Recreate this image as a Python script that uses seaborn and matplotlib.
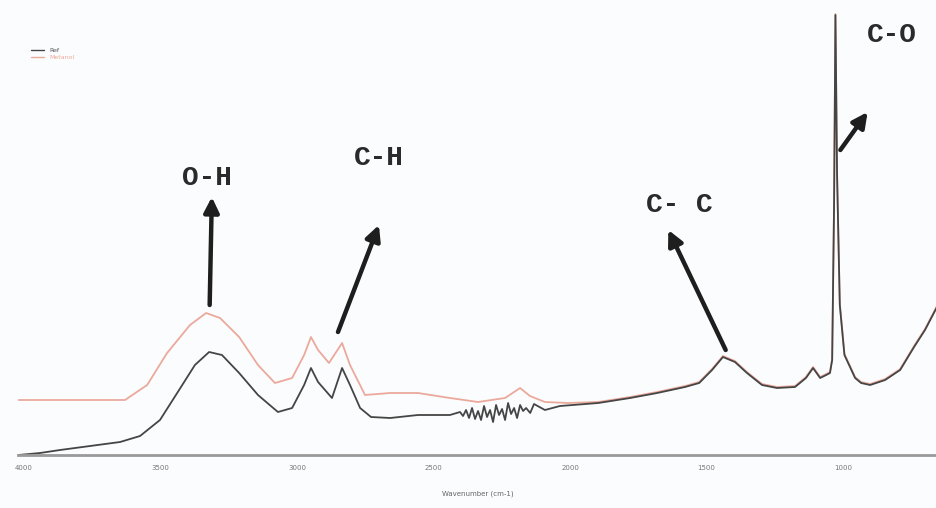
import numpy as np
import pandas as pd
import matplotlib
matplotlib.use("Agg")
import matplotlib.pyplot as plt
import seaborn as sns
from matplotlib.lines import Line2D

# ---- data (absorbance in arbitrary units) ----
ref_wn = [4020, 3941, 3868, 3758, 3648, 3575, 3502, 3432, 3374, 3322, 3275, 3212,
          3143, 3070, 3018, 2974, 2949, 2923, 2872, 2835, 2806, 2769, 2729, 2659,
          2557, 2440, 2403, 2392, 2381, 2370, 2359, 2348, 2337, 2326, 2315, 2304,
          2293, 2282, 2271, 2260, 2249, 2238, 2227, 2216, 2205, 2194, 2183, 2172,
          2161, 2146, 2132, 2092, 2037, 1897, 1780, 1681, 1579, 1527, 1480, 1440,
          1396, 1352, 1297, 1242, 1176, 1136, 1110, 1084, 1062, 1048, 1040, 1033,
          1028, 1022, 1012, 995, 978, 956, 934, 901, 846, 791, 740, 700, 656]
ref_abs = [0.00, 0.02, 0.05, 0.09, 0.13, 0.19, 0.35, 0.65, 0.90, 1.03, 1.00, 0.82,
           0.60, 0.43, 0.47, 0.70, 0.87, 0.73, 0.57, 0.87, 0.70, 0.47, 0.38, 0.37,
           0.40, 0.40, 0.43, 0.39, 0.45, 0.37, 0.47, 0.36, 0.44, 0.35, 0.49, 0.38,
           0.45, 0.33, 0.50, 0.40, 0.46, 0.35, 0.52, 0.41, 0.47, 0.37, 0.50, 0.44,
           0.47, 0.42, 0.51, 0.45, 0.49, 0.52, 0.57, 0.62, 0.68, 0.72, 0.85, 0.98,
           0.93, 0.82, 0.70, 0.67, 0.68, 0.77, 0.87, 0.77, 0.80, 0.82, 0.95, 2.50,
           4.40, 2.80, 1.50, 1.00, 0.90, 0.77, 0.72, 0.70, 0.75, 0.85, 1.08, 1.25, 1.48]

met_wn = [4020, 3868, 3630, 3549, 3476, 3392, 3333, 3282, 3212, 3143, 3081, 3018,
          2974, 2949, 2923, 2883, 2835, 2806, 2751, 2659, 2557, 2440, 2337, 2238,
          2183, 2147, 2092, 2007, 1897, 1780, 1681, 1579, 1527, 1480, 1440, 1396,
          1352, 1297, 1242, 1176, 1136, 1110, 1084, 1062, 1048, 1040, 1033, 1028,
          1022, 1012, 995, 978, 956, 934, 901, 846, 791, 740, 700, 656]
met_abs = [0.55, 0.55, 0.55, 0.70, 1.02, 1.30, 1.42, 1.37, 1.18, 0.90, 0.72, 0.77,
           1.00, 1.18, 1.05, 0.92, 1.12, 0.90, 0.60, 0.62, 0.62, 0.57, 0.53, 0.57,
           0.67, 0.59, 0.53, 0.52, 0.53, 0.58, 0.63, 0.69, 0.73, 0.86, 0.99, 0.94,
           0.83, 0.71, 0.68, 0.69, 0.78, 0.88, 0.78, 0.81, 0.83, 0.96, 2.51, 4.41,
           2.81, 1.51, 1.01, 0.91, 0.78, 0.73, 0.71, 0.76, 0.86, 1.09, 1.26, 1.49]

series_names = ["Ref", "Metanol"]
tick_values = [4000, 3500, 3000, 2500, 2000, 1500, 1000]
peak_labels = ["O-H", "C-H", "C- C", "C-O"]

df = pd.concat([
    pd.DataFrame({"wn": ref_wn, "abs": ref_abs, "series": series_names[0]}),
    pd.DataFrame({"wn": met_wn, "abs": met_abs, "series": series_names[1]}),
])

sns.set_style("white")
fig = plt.figure(figsize=(9.37, 5.08), dpi=100)
fig.patch.set_facecolor("#fbfcfd")
ax = fig.add_axes([18 / 937, 53 / 508, 919 / 937, 455 / 508])
ax.set_facecolor("#fbfcfd")

colors = {series_names[0]: "#454545", series_names[1]: "#eba99c"}
sns.lineplot(data=df, x="wn", y="abs", hue="series", palette=colors,
             hue_order=[series_names[1], series_names[0]],
             linewidth=1.3, ax=ax, legend=False, estimator=None)

ax.set_xlim(4022, 656)
ax.set_ylim(0, 4.55)
for s in ["left", "right", "top"]:
    ax.spines[s].set_visible(False)
ax.spines["bottom"].set_color("#9a9a9a")
ax.spines["bottom"].set_linewidth(2.0)
ax.set_yticks([])
ax.set_xticks(tick_values)
ax.set_xticklabels([str(t) for t in tick_values], fontsize=5, color="#777777")
ax.tick_params(axis="x", length=0, pad=7)
ax.set_xlabel("Wavenumber (cm-1)", fontsize=5, color="#666666", labelpad=14)
ax.set_ylabel("")
ax.grid(False)

# legend
handles = [Line2D([0], [0], color=colors[n], lw=1) for n in series_names]
leg = fig.legend(handles, series_names, loc="upper left",
                 bbox_to_anchor=(25 / 937, 1 - 42 / 508), frameon=False,
                 fontsize=4.5, handlelength=2.2, labelspacing=0.3)
for t, n in zip(leg.get_texts(), series_names):
    t.set_color(colors[n] if n != "Ref" else "#555555")

# peak annotations (label position, arrow tail -> arrow tip), in data coords
mono = ["Liberation Mono", "DejaVu Sans Mono"]
ann = [
    (peak_labels[0], (3330, 2.77), (3320, 1.50), (3312, 2.58)),
    (peak_labels[1], (2700, 2.97), (2850, 1.23), (2700, 2.30)),
    (peak_labels[2], (1600, 2.50), (1430, 1.05), (1640, 2.25)),
    (peak_labels[3], (820, 4.20), (1010, 3.05), (910, 3.43)),
]
for label, tpos, tail, tip in ann:
    ax.text(tpos[0], tpos[1], label, fontsize=20, fontweight="bold",
            family=mono, color="#2a2a2a", ha="center", va="center")
    ax.annotate("", xy=tip, xytext=tail,
                arrowprops=dict(arrowstyle="-|>,head_length=0.9,head_width=0.45",
                                color="#1e1e1e", lw=3.2, shrinkA=0, shrinkB=0))

fig.savefig("out.png", dpi=100, facecolor=fig.get_facecolor())
